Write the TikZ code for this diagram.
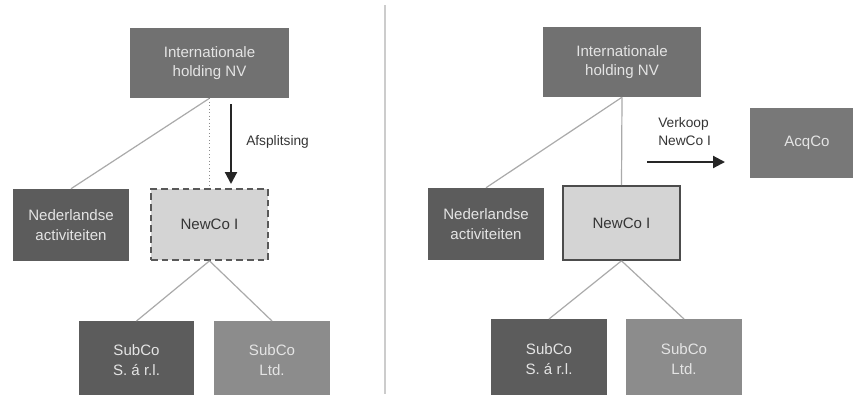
\documentclass[tikz,border=0pt]{standalone}
\usepackage{fontspec}
\setmainfont{Liberation Sans}
\usetikzlibrary{arrows.meta}
\definecolor{boxmid}{HTML}{717171}
\definecolor{boxdark}{HTML}{5C5C5C}
\definecolor{boxlight}{HTML}{8C8C8C}
\definecolor{boxpale}{HTML}{D4D4D4}
\definecolor{boxacq}{HTML}{787878}
\definecolor{linegray}{HTML}{AAAAAA}
\definecolor{txtlight}{HTML}{E4E4E4}
\definecolor{txtdark}{HTML}{353535}
\tikzset{
  company/.style={rectangle, inner sep=0pt, align=center, font=\fontsize{11.3}{14.8}\selectfont, text=txtlight},
  conn/.style={draw=linegray, line width=0.9pt},
  movearrow/.style={draw=black!85, line width=1.6pt, -{Triangle[length=9pt,width=9pt]}},
  lbl/.style={font=\fontsize{10.3}{13.5}\selectfont, text=txtdark, align=left, inner sep=0pt}
}
\begin{document}
\begin{tikzpicture}[x=0.75pt,y=-0.75pt]
\useasboundingbox[fill=white] (0,0) rectangle (853,394);
% divider
\draw[draw=black!20, line width=0.8pt] (385,5) -- (385,394);

% ---------- left panel ----------
\node[company, fill=boxmid, minimum width=159*0.75pt, minimum height=70*0.75pt] (ih1) at (209.5,63) {Internationale\\holding NV};
\node[company, fill=boxdark, minimum width=116*0.75pt, minimum height=72*0.75pt] (nl1) at (71,225) {Nederlandse\\activiteiten};
\node[company, fill=boxpale, text=txtdark, draw=black!65, dashed, dash pattern=on 5pt off 3pt, line width=1.3pt, minimum width=117*0.75pt, minimum height=71*0.75pt] (nc1) at (209.5,224.5) {NewCo I};
\node[company, fill=boxdark, minimum width=115*0.75pt, minimum height=78*0.75pt, anchor=north] (ss1) at (136.5,321) {SubCo\\S. á r.l.};
\node[company, fill=boxlight, minimum width=116*0.75pt, minimum height=78*0.75pt, anchor=north] (sl1) at (272,321) {SubCo\\Ltd.};

\draw[conn] (ih1.south) -- (nl1.north);
\draw[draw=black!45, line width=0.6pt, dotted] (ih1.south) -- (nc1.north);
\draw[conn] (nc1.south) -- (ss1.north);
\draw[conn] (nc1.south) -- (sl1.north);

\coordinate (a1s) at (231,104);
\coordinate (a1e) at (231,184);
\draw[movearrow] (a1s) -- (a1e);
\node[lbl, anchor=west] (afs) at (246,142) {Afsplitsing};

% ---------- right panel ----------
\node[company, fill=boxmid, minimum width=158*0.75pt, minimum height=70*0.75pt] (ih2) at (622,62) {Internationale\\holding NV};
\node[company, fill=boxdark, minimum width=116*0.75pt, minimum height=72*0.75pt] (nl2) at (486,224) {Nederlandse\\activiteiten};
\node[company, fill=boxpale, text=txtdark, draw=black!70, line width=1.2pt, minimum width=117*0.75pt, minimum height=74*0.75pt] (nc2) at (621.5,223) {NewCo I};
\node[company, fill=boxdark, minimum width=116*0.75pt, minimum height=80*0.75pt, anchor=north] (ss2) at (549,319) {SubCo\\S. á r.l.};
\node[company, fill=boxlight, minimum width=116*0.75pt, minimum height=80*0.75pt, anchor=north] (sl2) at (684,319) {SubCo\\Ltd.};
\node[company, fill=boxacq, minimum width=114*0.75pt, minimum height=70*0.75pt] (ac) at (807,143) {AcqCo};

\draw[conn] (ih2.south) -- (nl2.north);
\draw[conn] (ih2.south) -- (nc2.north);
\draw[conn] (nc2.south) -- (ss2.north);
\draw[conn] (nc2.south) -- (sl2.north);

\coordinate (a2s) at (647,162);
\coordinate (a2e) at (725,162);
\draw[movearrow] (a2s) -- (a2e);
\node[lbl, anchor=west] (vk) at (658,132) {Verkoop\\NewCo I};
\end{tikzpicture}
\end{document}
